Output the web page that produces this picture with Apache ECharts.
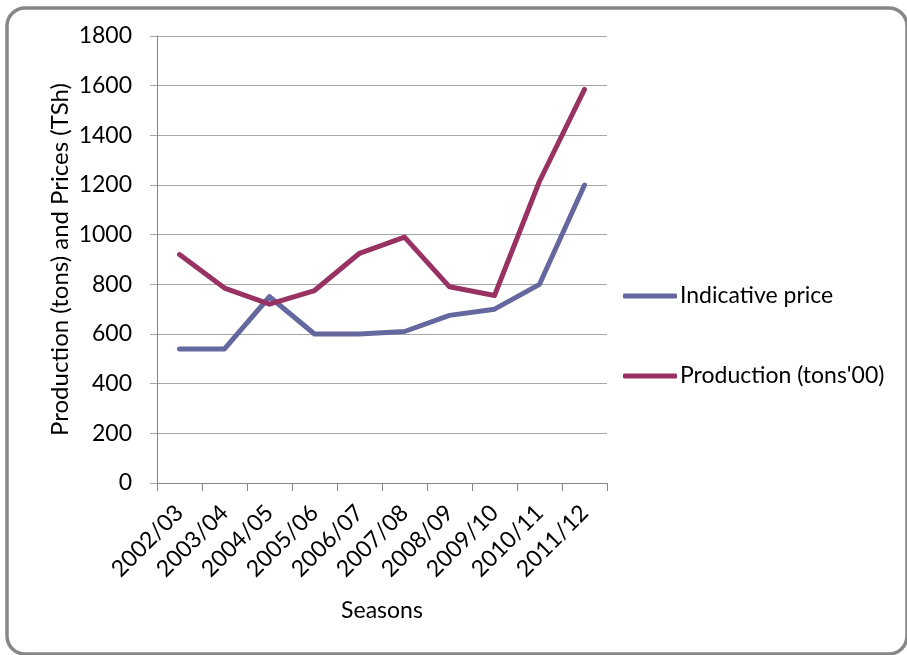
<!DOCTYPE html>
<html>
<head>
<meta charset="utf-8">
<script src="https://cdn.jsdelivr.net/npm/echarts@6/dist/echarts.min.js"></script>
<style>
  html, body { margin: 0; padding: 0; background: #fff; }
  #chart { width: 907px; height: 655px; }
</style>
</head>
<body>
<div id="chart"></div>
<script>
// Seasons on the category axis
const seasons = ['2002/03', '2003/04', '2004/05', '2005/06', '2006/07',
                 '2007/08', '2008/09', '2009/10', '2010/11', '2011/12'];
// Indicative price (TSh)
const indicativePrice = [540, 540, 750, 600, 600, 610, 675, 700, 800, 1200];
// Production, in hundreds of tons
const production = [920, 785, 720, 775, 925, 990, 790, 755, 1215, 1585];
// Value axis ticks
const yMin = 0, yMax = 1800, yStep = 200;

const FONT = 'Lato';
const FS = 23;
const chart = echarts.init(document.getElementById('chart'), null, { renderer: 'canvas' });

chart.setOption({
  animation: false,
  backgroundColor: '#fff',
  textStyle: { fontFamily: FONT, color: '#000' },
  graphic: [{
    type: 'rect',
    shape: { x: 7, y: 8, width: 900, height: 646, r: 18 },
    style: { fill: 'none', stroke: '#878787', lineWidth: 3.5 },
    silent: true
  }],
  grid: { left: 157, top: 36, width: 450, height: 447 },
  legend: {
    orient: 'vertical',
    left: 623,
    top: 284,
    padding: 0,
    icon: 'roundRect',
    itemWidth: 54,
    itemHeight: 5,
    itemGap: 56,
    textStyle: { fontFamily: FONT, fontSize: FS, color: '#000', lineHeight: 24, padding: [0, 0, 0, -2] },
    data: ['Indicative price', "Production (tons'00)"]
  },
  xAxis: {
    type: 'category',
    data: seasons,
    boundaryGap: true,
    name: 'Seasons',
    nameLocation: 'middle',
    nameGap: 116,
    nameTextStyle: { fontFamily: FONT, fontSize: FS, color: '#000' },
    axisLine: { lineStyle: { color: '#868686', width: 1 } },
    axisTick: { show: true, length: 8, alignWithLabel: false, lineStyle: { color: '#868686' } },
    axisLabel: { rotate: 45, margin: 26, fontFamily: FONT, fontSize: FS, color: '#000', interval: 0 },
    splitLine: { show: false }
  },
  yAxis: {
    type: 'value',
    min: yMin, max: yMax, interval: yStep,
    name: 'Production (tons) and Prices (TSh)',
    nameLocation: 'middle',
    nameGap: 85,
    nameRotate: 90,
    nameTextStyle: { fontFamily: FONT, fontSize: 24, color: '#000' },
    axisLine: { show: true, lineStyle: { color: '#868686', width: 1 } },
    axisTick: { show: true, length: 7, lineStyle: { color: '#a6a6a6' } },
    axisLabel: { margin: 25, fontFamily: FONT, fontSize: FS, color: '#000', formatter: v => String(v) },
    splitLine: { show: true, lineStyle: { color: '#a6a6a6', width: 1 } }
  },
  series: [
    {
      name: 'Indicative price',
      type: 'line',
      data: indicativePrice,
      symbol: 'none',
      lineStyle: { color: '#65679f', width: 5, cap: 'round', join: 'round' },
      itemStyle: { color: '#65679f' }
    },
    {
      name: "Production (tons'00)",
      type: 'line',
      data: production,
      symbol: 'none',
      lineStyle: { color: '#983263', width: 5, cap: 'round', join: 'round' },
      itemStyle: { color: '#983263' }
    }
  ]
});
</script>
</body>
</html>
